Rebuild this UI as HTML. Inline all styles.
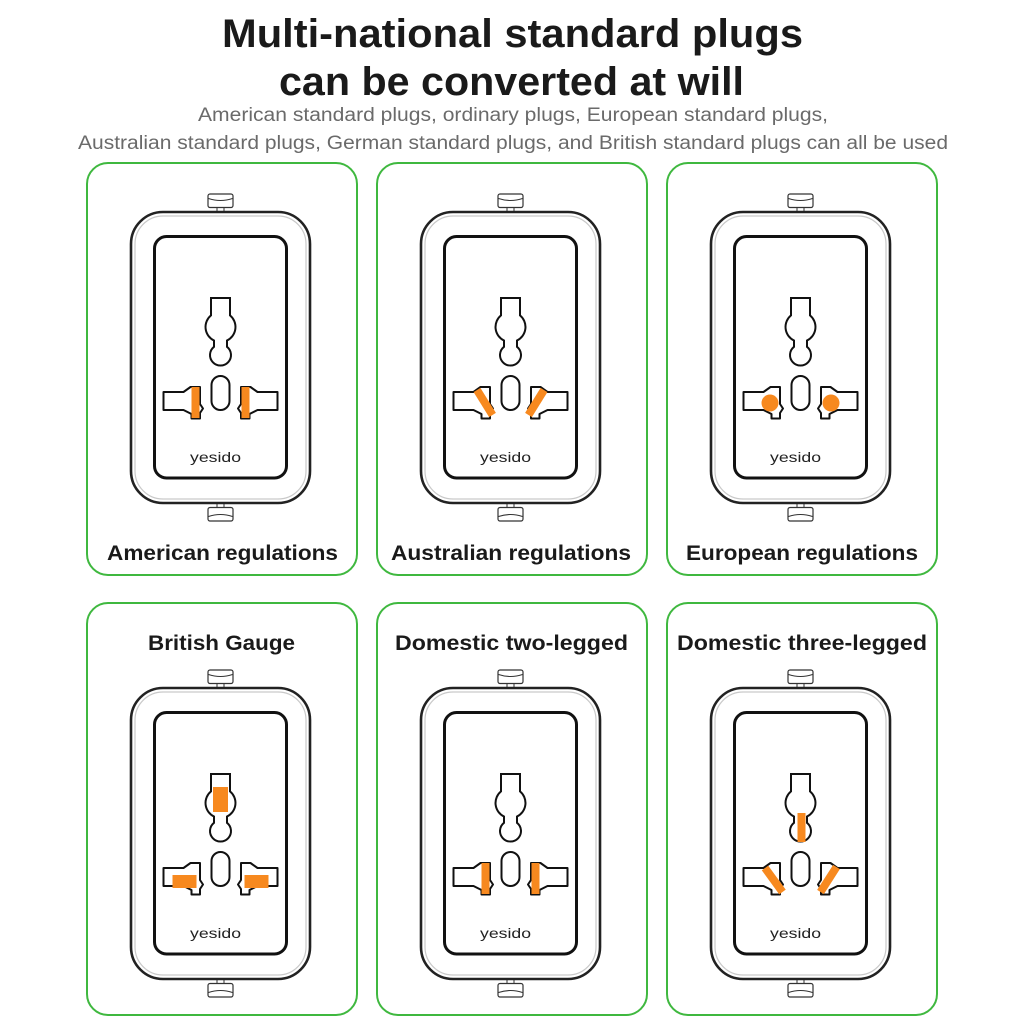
<!DOCTYPE html>
<html>
<head>
<meta charset="utf-8">
<style>
html,body{margin:0;padding:0;background:#fff;}
svg{display:block;}
</style>
</head>
<body>
<svg width="1024" height="1024" viewBox="0 0 1024 1024" xmlns="http://www.w3.org/2000/svg">
<rect width="1024" height="1024" fill="#fff"/>
<defs>
  <g id="plug">
    <!-- top tab -->
    <rect x="-3.5" y="-5" width="7" height="5" fill="#fff" stroke="#333" stroke-width="1"/>
    <rect x="-12.5" y="-18" width="25" height="13.5" rx="2" fill="#fff" stroke="#333" stroke-width="1.2"/>
    <path d="M-12 -13.5 Q0 -9.5 12 -13.5" fill="none" stroke="#333" stroke-width="1.1"/>
    <!-- bottom tab -->
    <rect x="-3.5" y="291" width="7" height="5" fill="#fff" stroke="#333" stroke-width="1"/>
    <rect x="-12.5" y="295.5" width="25" height="13.5" rx="2" fill="#fff" stroke="#333" stroke-width="1.2"/>
    <path d="M-12 304.5 Q0 300.5 12 304.5" fill="none" stroke="#333" stroke-width="1.1"/>
    <!-- body -->
    <rect x="-89.5" y="0" width="179" height="291" rx="32" fill="#fff" stroke="#222" stroke-width="2.6"/>
    <rect x="-85.5" y="4" width="171" height="283" rx="28" fill="none" stroke="#c9c9c9" stroke-width="1.2"/>
    <!-- inner panel -->
    <rect x="-66" y="24.5" width="132" height="241.5" rx="12" fill="#fff" stroke="#111" stroke-width="3"/>
    <!-- keyhole -->
    <path d="M-9.5 86 H9.5 V103.4 A15 15 0 0 1 6.5 128.5 V134.8 A10.5 10.5 0 1 1 -6.5 134.8 V128.5 A15 15 0 0 1 -9.5 103.4 Z" fill="#fff" stroke="#111" stroke-width="2"/>
    <!-- center oval -->
    <rect x="-9" y="164" width="18" height="34" rx="9" fill="#fff" stroke="#111" stroke-width="2"/>
    <!-- side holes -->
    <path d="M-57 180 H-37 L-30 175 H-20.5 V192 L-17.5 196.5 L-20.5 201 V206.5 H-29 V202 L-37 198 H-57 Z" fill="#fff" stroke="#111" stroke-width="2" stroke-linejoin="round"/>
    <path d="M57 180 H37 L30 175 H20.5 V192 L17.5 196.5 L20.5 201 V206.5 H29 V202 L37 198 H57 Z" fill="#fff" stroke="#111" stroke-width="2" stroke-linejoin="round"/>
  </g>
</defs>

<!-- Title -->
<text x="512.5" y="47" text-anchor="middle" font-family="Liberation Sans, sans-serif" font-weight="bold" font-size="40" fill="#1a1a1a" textLength="581" lengthAdjust="spacingAndGlyphs">Multi-national standard plugs</text>
<text x="511.5" y="95" text-anchor="middle" font-family="Liberation Sans, sans-serif" font-weight="bold" font-size="40" fill="#1a1a1a" textLength="465" lengthAdjust="spacingAndGlyphs">can be converted at will</text>
<text x="513" y="121" text-anchor="middle" font-family="Liberation Sans, sans-serif" font-size="19" fill="#6a6a6a" textLength="630" lengthAdjust="spacingAndGlyphs">American standard plugs, ordinary plugs, European standard plugs,</text>
<text x="513" y="149" text-anchor="middle" font-family="Liberation Sans, sans-serif" font-size="19" fill="#6a6a6a" textLength="870" lengthAdjust="spacingAndGlyphs">Australian standard plugs, German standard plugs, and British standard plugs can all be used</text>

<!-- Cards -->
<g fill="#fff" stroke="#3fb83f" stroke-width="2">
  <rect x="87" y="163" width="270" height="412" rx="21"/>
  <rect x="377" y="163" width="270" height="412" rx="21"/>
  <rect x="667" y="163" width="270" height="412" rx="21"/>
  <rect x="87" y="603" width="270" height="412" rx="21"/>
  <rect x="377" y="603" width="270" height="412" rx="21"/>
  <rect x="667" y="603" width="270" height="412" rx="21"/>
</g>

<!-- Card 1: American -->
<g transform="translate(220.5,212)">
  <use href="#plug"/>
  <rect x="-29" y="175" width="8" height="31" fill="#f7891f"/>
  <rect x="21" y="175" width="8" height="31" fill="#f7891f"/>
  <text x="-5" y="250" text-anchor="middle" font-family="Liberation Sans, sans-serif" font-size="14" fill="#222" textLength="51" lengthAdjust="spacingAndGlyphs">yesido</text>
</g>
<text x="222.5" y="560" text-anchor="middle" font-family="Liberation Sans, sans-serif" font-weight="bold" font-size="21" fill="#1a1a1a" textLength="231" lengthAdjust="spacingAndGlyphs">American regulations</text>

<!-- Card 2: Australian -->
<g transform="translate(510.5,212)">
  <use href="#plug"/>
  <line x1="-33.5" y1="178" x2="-18" y2="203" stroke="#f7891f" stroke-width="8"/>
  <line x1="33.5" y1="178" x2="18" y2="203" stroke="#f7891f" stroke-width="8"/>
  <text x="-5" y="250" text-anchor="middle" font-family="Liberation Sans, sans-serif" font-size="14" fill="#222" textLength="51" lengthAdjust="spacingAndGlyphs">yesido</text>
</g>
<text x="511" y="560" text-anchor="middle" font-family="Liberation Sans, sans-serif" font-weight="bold" font-size="21" fill="#1a1a1a" textLength="240" lengthAdjust="spacingAndGlyphs">Australian regulations</text>

<!-- Card 3: European -->
<g transform="translate(800.5,212)">
  <use href="#plug"/>
  <circle cx="-30.5" cy="191" r="8.5" fill="#f7891f"/>
  <circle cx="30.5" cy="191" r="8.5" fill="#f7891f"/>
  <text x="-5" y="250" text-anchor="middle" font-family="Liberation Sans, sans-serif" font-size="14" fill="#222" textLength="51" lengthAdjust="spacingAndGlyphs">yesido</text>
</g>
<text x="802" y="560" text-anchor="middle" font-family="Liberation Sans, sans-serif" font-weight="bold" font-size="21" fill="#1a1a1a" textLength="232" lengthAdjust="spacingAndGlyphs">European regulations</text>

<!-- Card 4: British -->
<text x="221.5" y="650" text-anchor="middle" font-family="Liberation Sans, sans-serif" font-weight="bold" font-size="21" fill="#1a1a1a" textLength="147" lengthAdjust="spacingAndGlyphs">British Gauge</text>
<g transform="translate(220.5,688)">
  <use href="#plug"/>
  <rect x="-7.5" y="99" width="15" height="25" fill="#f7891f"/>
  <rect x="-48" y="187" width="24" height="13" fill="#f7891f"/>
  <rect x="24" y="187" width="24" height="13" fill="#f7891f"/>
  <text x="-5" y="250" text-anchor="middle" font-family="Liberation Sans, sans-serif" font-size="14" fill="#222" textLength="51" lengthAdjust="spacingAndGlyphs">yesido</text>
</g>

<!-- Card 5: Domestic two-legged -->
<text x="511.5" y="650" text-anchor="middle" font-family="Liberation Sans, sans-serif" font-weight="bold" font-size="21" fill="#1a1a1a" textLength="233" lengthAdjust="spacingAndGlyphs">Domestic two-legged</text>
<g transform="translate(510.5,688)">
  <use href="#plug"/>
  <rect x="-29" y="175" width="8" height="31" fill="#f7891f"/>
  <rect x="21" y="175" width="8" height="31" fill="#f7891f"/>
  <text x="-5" y="250" text-anchor="middle" font-family="Liberation Sans, sans-serif" font-size="14" fill="#222" textLength="51" lengthAdjust="spacingAndGlyphs">yesido</text>
</g>

<!-- Card 6: Domestic three-legged -->
<text x="802" y="650" text-anchor="middle" font-family="Liberation Sans, sans-serif" font-weight="bold" font-size="21" fill="#1a1a1a" textLength="250" lengthAdjust="spacingAndGlyphs">Domestic three-legged</text>
<g transform="translate(800.5,688)">
  <use href="#plug"/>
  <rect x="-3" y="125" width="8" height="29" fill="#f7891f"/>
  <line x1="-35.5" y1="180" x2="-18" y2="204" stroke="#f7891f" stroke-width="8"/>
  <line x1="36" y1="179" x2="20" y2="204" stroke="#f7891f" stroke-width="8"/>
  <text x="-5" y="250" text-anchor="middle" font-family="Liberation Sans, sans-serif" font-size="14" fill="#222" textLength="51" lengthAdjust="spacingAndGlyphs">yesido</text>
</g>
</svg>
</body>
</html>
